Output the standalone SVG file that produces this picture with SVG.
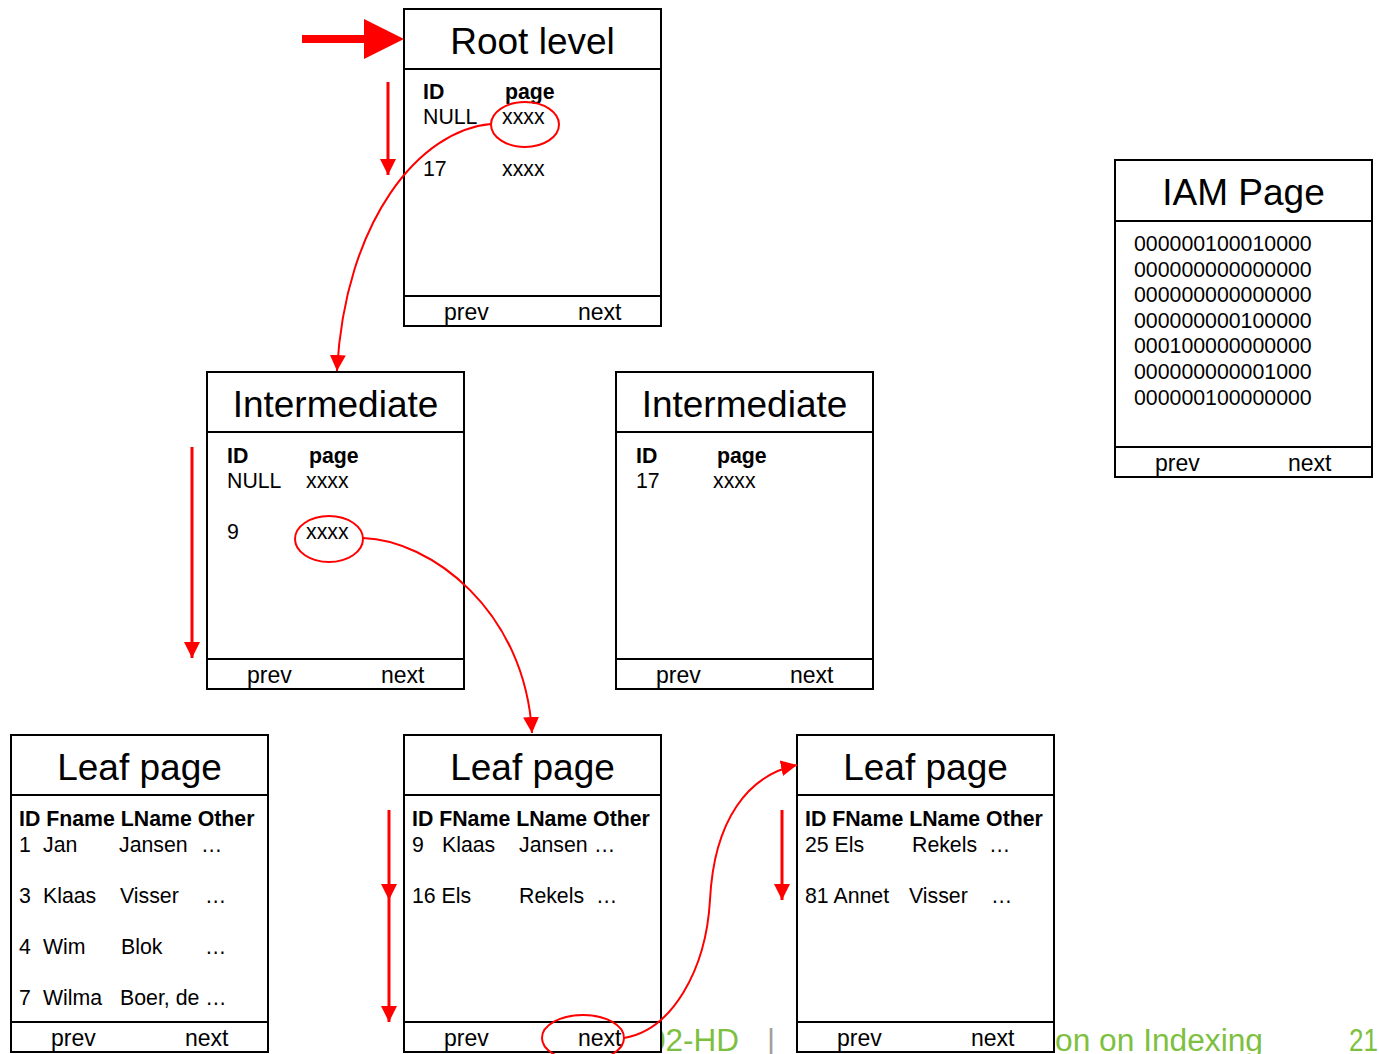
<svg xmlns="http://www.w3.org/2000/svg" width="1379" height="1054" viewBox="0 0 1379 1054">
  <style>
    .box { fill: #ffffff; stroke: #000000; stroke-width: 2; }
    .sep { stroke: #000000; stroke-width: 2; }
    .title { font-family: "Liberation Sans", Arial, sans-serif; font-size: 37px; fill: #000; text-anchor: middle; }
    .body { font-family: "Liberation Sans", Arial, sans-serif; font-size: 21.3px; fill: #000; }
    .bold { font-weight: bold; }
    .nav { font-family: "Liberation Sans", Arial, sans-serif; font-size: 23px; fill: #000; }
    .foot { font-family: "Liberation Sans", Arial, sans-serif; font-size: 31px; fill: #7dbf3f; }
    .link { fill: none; stroke: #ff0000; stroke-width: 2; }
    .scan { fill: none; stroke: #ff0000; stroke-width: 3; }
    .mark { fill: none; stroke: #ff0000; stroke-width: 2; }
  </style>
  <defs>
    <marker id="head" markerUnits="userSpaceOnUse" markerWidth="18" markerHeight="18" refX="16" refY="8" orient="auto">
      <path d="M0,0 L16,8 L0,16 z" fill="#ff0000"/>
    </marker>
  </defs>

  <rect width="1379" height="1054" fill="#ffffff"/>

  <!-- slide footer, partly covered by the pages -->
  <g id="footer">
    <text class="foot" x="648" y="1051" textLength="91" lengthAdjust="spacingAndGlyphs">02-HD</text>
    <text class="foot" x="767" y="1051" style="fill:#a0a0a0">|</text>
    <text class="foot" x="1055" y="1051" textLength="208" lengthAdjust="spacingAndGlyphs">on on Indexing</text>
    <text class="foot" x="1349" y="1051" textLength="29" lengthAdjust="spacingAndGlyphs">21</text>
  </g>

  <!-- root page -->
  <g id="root">
    <rect class="box" x="404" y="9" width="257" height="317"/>
    <line class="sep" x1="404" y1="69" x2="661" y2="69"/>
    <line class="sep" x1="404" y1="296" x2="661" y2="296"/>
    <text class="title" x="532.5" y="54">Root level</text>
    <text class="body bold" x="423" y="99">ID</text>
    <text class="body bold" x="505" y="99">page</text>
    <text class="body" x="423" y="124">NULL</text>
    <text class="body" x="502" y="124">xxxx</text>
    <text class="body" x="423" y="176">17</text>
    <text class="body" x="502" y="176">xxxx</text>
    <text class="nav" x="444" y="320">prev</text>
    <text class="nav" x="578" y="320">next</text>
  </g>

  <!-- intermediate page (left) -->
  <g id="intermediate-1">
    <rect class="box" x="207" y="372" width="257" height="317"/>
    <line class="sep" x1="207" y1="432" x2="464" y2="432"/>
    <line class="sep" x1="207" y1="659" x2="464" y2="659"/>
    <text class="title" x="335.5" y="417">Intermediate</text>
    <text class="body bold" x="227" y="463">ID</text>
    <text class="body bold" x="309" y="463">page</text>
    <text class="body" x="227" y="488">NULL</text>
    <text class="body" x="306" y="488">xxxx</text>
    <text class="body" x="227" y="539">9</text>
    <text class="body" x="306" y="539">xxxx</text>
    <text class="nav" x="247" y="683">prev</text>
    <text class="nav" x="381" y="683">next</text>
  </g>

  <!-- intermediate page (right) -->
  <g id="intermediate-2">
    <rect class="box" x="616" y="372" width="257" height="317"/>
    <line class="sep" x1="616" y1="432" x2="873" y2="432"/>
    <line class="sep" x1="616" y1="659" x2="873" y2="659"/>
    <text class="title" x="744.5" y="417">Intermediate</text>
    <text class="body bold" x="636" y="463">ID</text>
    <text class="body bold" x="717" y="463">page</text>
    <text class="body" x="636" y="488">17</text>
    <text class="body" x="713" y="488">xxxx</text>
    <text class="nav" x="656" y="683">prev</text>
    <text class="nav" x="790" y="683">next</text>
  </g>

  <!-- IAM page -->
  <g id="iam">
    <rect class="box" x="1115" y="160" width="257" height="317"/>
    <line class="sep" x1="1115" y1="221" x2="1372" y2="221"/>
    <line class="sep" x1="1115" y1="447" x2="1372" y2="447"/>
    <text class="title" x="1243.5" y="205">IAM Page</text>
    <text class="body" x="1134" y="251">000000100010000</text>
    <text class="body" x="1134" y="276.6">000000000000000</text>
    <text class="body" x="1134" y="302.2">000000000000000</text>
    <text class="body" x="1134" y="327.8">000000000100000</text>
    <text class="body" x="1134" y="353.4">000100000000000</text>
    <text class="body" x="1134" y="379">000000000001000</text>
    <text class="body" x="1134" y="404.6">000000100000000</text>
    <text class="nav" x="1155" y="471">prev</text>
    <text class="nav" x="1288" y="471">next</text>
  </g>

  <!-- leaf page 1 -->
  <g id="leaf-1">
    <rect class="box" x="11" y="735" width="257" height="317"/>
    <line class="sep" x1="11" y1="795" x2="268" y2="795"/>
    <line class="sep" x1="11" y1="1022" x2="268" y2="1022"/>
    <text class="title" x="139.5" y="780">Leaf page</text>
    <text class="body bold" x="19" y="826">ID Fname LName Other</text>
    <text class="body" x="19" y="852">1</text>
    <text class="body" x="43" y="852">Jan</text>
    <text class="body" x="119" y="852">Jansen</text>
    <text class="body" x="201" y="852">…</text>
    <text class="body" x="19" y="903">3</text>
    <text class="body" x="43" y="903">Klaas</text>
    <text class="body" x="120" y="903">Visser</text>
    <text class="body" x="205" y="903">…</text>
    <text class="body" x="19" y="954">4</text>
    <text class="body" x="43" y="954">Wim</text>
    <text class="body" x="121" y="954">Blok</text>
    <text class="body" x="205" y="954">…</text>
    <text class="body" x="19" y="1005">7</text>
    <text class="body" x="43" y="1005">Wilma</text>
    <text class="body" x="120" y="1005">Boer, de …</text>
    <text class="nav" x="51" y="1046">prev</text>
    <text class="nav" x="185" y="1046">next</text>
  </g>

  <!-- leaf page 2 -->
  <g id="leaf-2">
    <rect class="box" x="404" y="735" width="257" height="317"/>
    <line class="sep" x1="404" y1="795" x2="661" y2="795"/>
    <line class="sep" x1="404" y1="1022" x2="661" y2="1022"/>
    <text class="title" x="532.5" y="780">Leaf page</text>
    <text class="body bold" x="412" y="826">ID FName LName Other</text>
    <text class="body" x="412" y="852">9</text>
    <text class="body" x="442" y="852">Klaas</text>
    <text class="body" x="519" y="852">Jansen</text>
    <text class="body" x="594" y="852">…</text>
    <text class="body" x="412" y="903">16 Els</text>
    <text class="body" x="519" y="903">Rekels</text>
    <text class="body" x="596" y="903">…</text>
    <text class="nav" x="444" y="1046">prev</text>
    <text class="nav" x="578" y="1046">next</text>
  </g>

  <!-- leaf page 3 -->
  <g id="leaf-3">
    <rect class="box" x="797" y="735" width="257" height="317"/>
    <line class="sep" x1="797" y1="795" x2="1054" y2="795"/>
    <line class="sep" x1="797" y1="1022" x2="1054" y2="1022"/>
    <text class="title" x="925.5" y="780">Leaf page</text>
    <text class="body bold" x="805" y="826">ID FName LName Other</text>
    <text class="body" x="805" y="852">25 Els</text>
    <text class="body" x="912" y="852">Rekels</text>
    <text class="body" x="989" y="852">…</text>
    <text class="body" x="805" y="903">81 Annet</text>
    <text class="body" x="909" y="903">Visser</text>
    <text class="body" x="991" y="903">…</text>
    <text class="nav" x="837" y="1046">prev</text>
    <text class="nav" x="971" y="1046">next</text>
  </g>

  <!-- highlighted pointers -->
  <g id="highlights">
    <ellipse class="mark" cx="525" cy="124.5" rx="34" ry="22.5"/>
    <ellipse class="mark" cx="329" cy="539" rx="34" ry="23"/>
    <ellipse class="mark" cx="583" cy="1038" rx="41" ry="23"/>
  </g>

  <!-- connectors -->
  <g id="connectors">
    <!-- entry arrow into the root -->
    <line x1="302" y1="39" x2="366" y2="39" stroke="#ff0000" stroke-width="8"/>
    <polygon points="364,19 404,39 364,59" fill="#ff0000"/>

    <!-- scan direction inside pages -->
    <line class="scan" x1="388" y1="82" x2="388" y2="175" marker-end="url(#head)"/>
    <line class="scan" x1="192" y1="447" x2="192" y2="658" marker-end="url(#head)"/>
    <line class="scan" x1="389" y1="810" x2="389" y2="900" marker-end="url(#head)"/>
    <line class="scan" x1="389" y1="900" x2="389" y2="1022" marker-end="url(#head)"/>
    <line class="scan" x1="782" y1="810" x2="782" y2="900" marker-end="url(#head)"/>

    <!-- page pointers -->
    <path class="link" d="M491,124 C420,130 345,220 337,371" marker-end="url(#head)"/>
    <path class="link" d="M363,538 C430,540 525,610 532,733" marker-end="url(#head)"/>
    <path class="link" d="M624,1038 C672,1030 706,970 710,900 C714,820 748,775 797,765" marker-end="url(#head)"/>
  </g>
</svg>
